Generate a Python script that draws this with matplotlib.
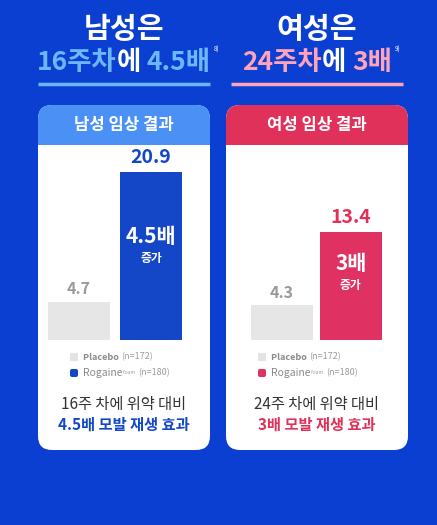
import matplotlib.pyplot as plt
from matplotlib.patches import FancyBboxPatch, Rectangle

plt.rcParams['font.family'] = ['Noto Sans CJK KR', 'DejaVu Sans']

groups = ['Placebo', 'Rogaine']
men_values = [4.7, 20.9]
women_values = [4.3, 13.4]
value_labels_men = ['4.7', '20.9']
value_labels_women = ['4.3', '13.4']

BG = '#0b3fd1'
fig = plt.figure(figsize=(4.37, 5.25), dpi=100)
fig.patch.set_facecolor(BG)
ov = fig.add_axes([0, 0, 1, 1])
ov.set_xlim(0, 437)
ov.set_ylim(525, 0)
ov.axis('off')
ov.set_zorder(0)

renderer = fig.canvas.get_renderer()


def chain_text(x, y, pieces, size, center=True):
    # draw pieces side by side; pieces = (text, colour, extra kwargs)
    arts = []
    for s, c, kw in pieces:
        kw = dict(dict(fontsize=size, fontweight='bold'), **kw)
        arts.append(ov.text(0, y, s, color=c, va='center', ha='left', **kw))
    widths = [t.get_window_extent(renderer).width for t in arts]
    total = sum(widths)
    start = x - total / 2 if center else x
    cur = start
    for t, wd in zip(arts, widths):
        t.set_x(cur)
        cur += wd
    return start, cur


panels = [
    dict(cx=124, x0=38, x1=210, xl=(-0.57, 1.82), bw=0.86, head='#4a90f5', bar='#1447c8', light='#6cb8ff',
         title='남성은', line2=[('16주차', '#6cb8ff', {}), ('에 ', 'white', {}), ('4.5배', '#6cb8ff', {})], sup='8)',
         box='남성 임상 결과', vals=men_values, labs=value_labels_men, inner='4.5배',
         t1='16주 차에 위약 대비', t2='4.5배 모발 재생 효과', tc='#1447c8'),
    dict(cx=317, x0=226, x1=408, xl=(-0.81, 1.83), bw=0.9, head='#e0315a', bar='#e03163', light='#ffa3b8',
         title='여성은', line2=[('24주차', '#ffa3b8', {}), ('에 ', 'white', {}), ('3배', '#ffa3b8', {})], sup='9)',
         box='여성 임상 결과', vals=women_values, labs=value_labels_women, inner='3배',
         t1='24주 차에 위약 대비', t2='3배 모발 재생 효과', tc='#e0315a'),
]

for p in panels:
    cx = p['cx']
    ov.text(cx, 29, p['title'], color='white', fontsize=21, fontweight='bold', ha='center', va='center')
    l, r = chain_text(cx, 62, p['line2'], 19)
    ov.text(r + 3, 50, p['sup'], color='white', fontsize=4.5, va='center')
    ov.plot([cx - 86, cx + 86], [84, 84], color=p['light'], lw=2.5, solid_capstyle='butt')

    # white card
    w = p['x1'] - p['x0']
    ov.add_patch(FancyBboxPatch((p['x0'], 105), w, 345, boxstyle='round,pad=0,rounding_size=14',
                                fc='white', ec='none'))
    ov.add_patch(FancyBboxPatch((p['x0'], 105), w, 40, boxstyle='round,pad=0,rounding_size=14',
                                fc=p['head'], ec='none'))
    ov.add_patch(Rectangle((p['x0'], 128), w, 17, fc=p['head'], ec='none'))
    ov.text(cx, 125, p['box'], color='white', fontsize=12, fontweight='bold', ha='center', va='center')

    # legend
    lx = p['x0'] + 32
    ov.add_patch(Rectangle((lx, 353), 8, 8, fc='#e3e3e3', ec='none'))
    ov.add_patch(FancyBboxPatch((lx, 369), 8, 8, boxstyle='round,pad=0,rounding_size=2', fc=p['bar'], ec='none'))
    chain_text(lx + 13, 357, [('Placebo ', '#8a8a8a', {}), ('(n=172)', '#9a9a9a', dict(fontweight='normal'))],
               6.5, center=False)
    chain_text(lx + 13, 373, [('Rogaine', '#8a8a8a', dict(style='italic', fontweight='normal', fontsize=7.5)),
                              (' foam  ', '#9a9a9a', dict(fontsize=3.5, fontweight='normal')),
                              ('(n=180)', '#9a9a9a', dict(fontweight='normal'))], 6.5, center=False)

    ov.text(cx, 404, p['t1'], color='#333333', fontsize=11, ha='center', va='center')
    ov.text(cx, 425, p['t2'], color=p['tc'], fontsize=11, fontweight='bold', ha='center', va='center')

    # bar chart
    ax = fig.add_axes([p['x0'] / 437, 1 - 340 / 525, w / 437, 193 / 525])
    ax.set_zorder(2)
    ax.patch.set_alpha(0)
    bars = ax.bar(range(len(groups)), p['vals'], width=p['bw'], color=['#e6e6e6', p['bar']])
    ax.set_xlim(*p['xl'])
    ax.set_ylim(0, 24)
    ax.axis('off')
    for b, lab, c in zip(bars, p['labs'], ['#9a9a9a', p['tc']]):
        ax.text(b.get_x() + b.get_width() / 2, b.get_height() + 0.6, lab, color=c,
                fontsize=14 if c != '#9a9a9a' else 11.5, fontweight='bold', ha='center', va='bottom')
    rb = bars[1]
    mid = rb.get_x() + rb.get_width() / 2
    ax.text(mid, rb.get_height() * 0.45 + 3.5, p['inner'], color='white', fontsize=15,
            fontweight='bold', ha='center', va='center')
    ax.text(mid, rb.get_height() * 0.45 + 0.7, '증가', color='white', fontsize=8.5,
            fontweight='bold', ha='center', va='center')

fig.savefig('out.png', dpi=100, facecolor=BG)
